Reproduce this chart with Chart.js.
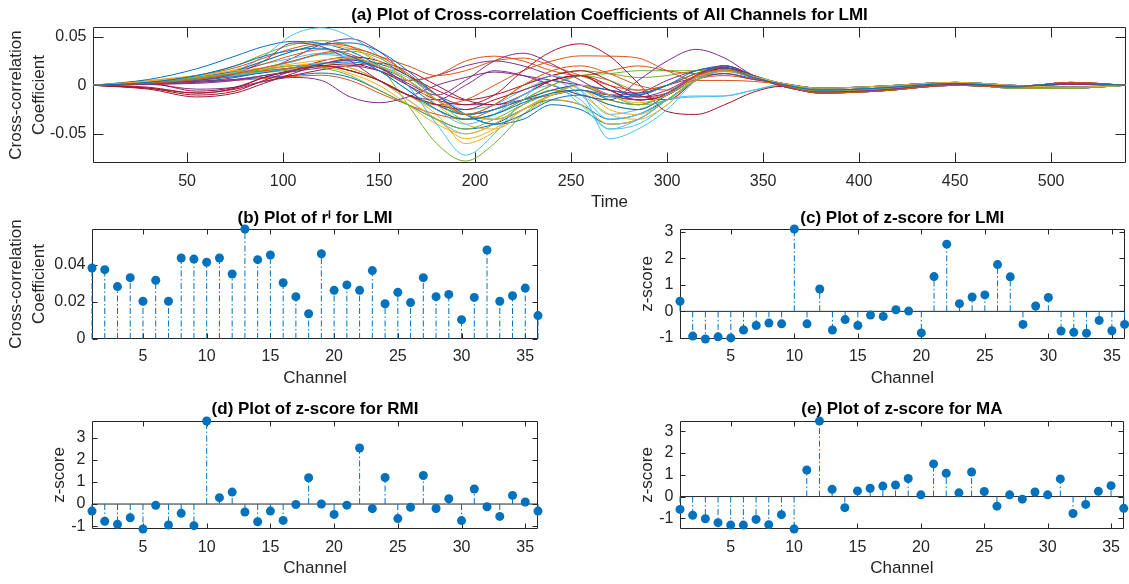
<!DOCTYPE html>
<html><head><meta charset="utf-8">
<script src="https://cdn.jsdelivr.net/npm/chart.js@4.4.1/dist/chart.umd.min.js"></script>
<style>
html,body{margin:0;padding:0;background:#fff;width:1129px;height:584px;overflow:hidden;position:relative;}
canvas{position:absolute;}
</style></head><body>
<canvas id="ca" width="1129" height="215" style="left:0px;top:0px"></canvas>
<canvas id="cb" width="560" height="190" style="left:0px;top:205px"></canvas>
<canvas id="cc" width="569" height="190" style="left:560px;top:205px"></canvas>
<canvas id="cd" width="560" height="189" style="left:0px;top:395px"></canvas>
<canvas id="ce" width="569" height="189" style="left:560px;top:395px"></canvas>
<script>
// ---------- data ----------
const timeKnots = [1,30,55,75,90,105,120,135,150,165,180,195,210,225,240,255,270,285,300,315,330,345,360,380,410,450,480,510,539];
const cc01 = [0,.003,.010,.020,.030,.036,.0382,.030,.015,-.005,-.025,-.035,-.030,-.018,-.008,-.005,-.012,-.010,.000,.015,.018,.008,.001,-.005,-.003,.002,-.001,.002,0];
const cc02 = [0,.002,.006,.012,.018,.025,.033,.0373,.030,.012,-.010,-.030,-.020,.000,.015,.020,.012,.000,-.005,.010,.016,.008,.000,-.008,-.006,.000,-.002,.003,0];
const cc03 = [0,.004,.010,.015,.018,.022,.026,.0282,.020,.005,-.015,-.030,-.035,-.025,-.010,.000,-.010,-.018,-.010,.008,.016,.009,.002,-.003,-.001,.003,.000,-.002,0];
const cc04 = [0,.001,.002,.005,.010,.015,.022,.026,.018,.002,-.010,.005,.025,.033,.022,.005,-.010,-.015,-.010,.010,.020,.010,-.001,-.007,-.005,.001,-.001,.001,0];
const cc05 = [0,.003,.008,.012,.016,.0203,.018,.010,-.005,-.020,-.035,-.045,-.035,-.020,-.008,.000,-.010,-.020,-.015,.005,.016,.010,.001,-.006,-.004,.002,-.003,-.003,0];
const cc06 = [0,.003,.008,.013,.018,.024,.0316,.028,.015,-.005,-.025,-.040,-.030,-.010,.000,-.020,-.045,-.035,-.015,.005,.015,.008,.001,-.005,-.003,.002,-.001,.002,0];
const cc07 = [0,-.004,-.012,-.008,.002,.012,.0203,.015,.005,-.010,-.020,-.025,-.015,-.005,.005,.010,-.005,-.015,-.010,.008,.018,.010,.000,-.008,-.006,.000,-.002,.003,0];
const cc08 = [0,.003,.008,.015,.025,.035,.042,.0436,.035,.015,-.010,-.030,-.040,-.030,-.015,-.010,-.020,-.025,-.010,.010,.020,.010,.002,-.003,-.001,.003,.000,-.002,0];
const cc09 = [0,.004,.010,.018,.028,.038,.043,.040,.030,.020,.010,.015,.025,.028,.020,.010,.000,-.005,.000,.012,.018,.009,-.001,-.007,-.005,.001,-.001,.001,0];
const cc10 = [0,.004,.009,.016,.025,.035,.0413,.038,.025,.005,-.020,-.040,-.045,-.030,-.015,-.020,-.040,-.035,-.015,.005,.015,.008,.001,-.006,-.004,.002,-.003,-.003,0];
const cc11 = [0,.002,.005,.012,.025,.0436,.040,.025,.005,-.010,-.015,.000,.015,.010,.000,-.010,-.015,.005,.025,.037,.028,.010,.001,-.005,-.003,.002,-.001,.002,0];
const cc12 = [0,.003,.007,.012,.018,.025,.032,.035,.028,.010,-.015,-.035,-.030,-.015,.000,.010,.005,-.005,.000,.012,.020,.010,.000,-.008,-.006,.000,-.002,.003,0];
const cc13 = [0,.003,.008,.015,.030,.052,.0592,.050,.030,.000,-.040,-.072,-.050,-.015,.010,-.005,-.055,-.045,-.025,.005,.020,.010,.002,-.003,-.001,.003,.000,-.002,0];
const cc14 = [0,.002,-.006,-.002,.008,.015,.020,.022,.015,.000,-.015,-.020,-.010,.015,.035,.0427,.030,.002,-.027,-.030,-.020,-.007,-.001,-.007,-.005,.001,-.001,.001,0];
const cc15 = [0,.006,.017,.030,.040,.0452,.043,.035,.020,.000,-.020,-.030,-.025,-.015,-.005,.000,-.005,-.010,.000,.012,.018,.008,.001,-.006,-.004,.002,-.003,-.003,0];
const cc16 = [0,.003,.007,.012,.015,.018,.020,.015,.005,-.010,-.020,-.015,.000,.015,.025,.0303,.030,.028,.015,.005,.005,.004,.001,-.005,-.003,.002,-.001,.002,0];
const cc17 = [0,.004,.009,.013,.016,.020,.0228,.018,.005,-.015,-.035,-.055,-.045,-.025,-.010,-.005,-.020,-.025,-.010,.008,.016,.009,.000,-.008,-.006,.000,-.002,.003,0];
const cc18 = [0,.001,-.004,-.002,.004,.008,.005,-.012,-.018,-.012,.000,.008,.0136,.010,.005,.000,-.005,-.008,.000,.008,.012,.006,.002,-.003,-.001,.003,.000,-.002,0];
const cc19 = [0,.004,.010,.020,.032,.042,.0459,.040,.020,-.020,-.060,-.078,-.060,-.030,-.010,.000,-.015,-.020,-.010,.005,.015,.008,-.001,-.007,-.005,.001,-.001,.001,0];
const cc20 = [0,.003,.006,.010,.014,.018,.022,.0262,.020,.008,-.010,-.025,-.020,-.005,.005,-.010,-.035,-.030,-.015,-.011,-.011,-.005,.001,-.006,-.004,.002,-.003,-.003,0];
const cc21 = [0,-.003,-.010,-.006,.005,.015,.025,.0291,.025,.010,-.005,-.015,-.010,.000,.010,.015,.005,-.010,-.015,.005,.018,.010,.001,-.005,-.003,.002,-.001,.002,0];
const cc22 = [0,.002,.005,.009,.013,.018,.022,.0262,.022,.010,-.010,-.030,-.040,-.035,-.020,-.025,-.040,-.035,-.015,.005,.015,.008,.000,-.008,-.006,.000,-.002,.003,0];
const cc23 = [0,.003,.008,.014,.022,.031,.0368,.032,.018,.005,.010,.025,.030,.025,.015,.010,.015,.020,.015,.012,.015,.008,.002,-.003,-.001,.003,.000,-.002,0];
const cc24 = [0,.004,.008,.012,.015,.017,.019,.012,.000,-.020,-.040,-.050,-.040,-.020,-.005,-.010,-.030,-.035,-.020,.005,.014,.008,-.001,-.007,-.005,.001,-.001,.001,0];
const cc25 = [0,.001,.003,.006,.010,.014,.018,.020,.015,.005,.010,.020,.0251,.020,.010,.000,-.010,-.012,-.005,.010,.018,.009,.001,-.006,-.004,.002,-.003,-.003,0];
const cc26 = [0,.003,.007,.011,.014,.017,.0196,.015,.005,-.010,-.025,-.035,-.030,-.015,.000,.010,.012,.015,.015,.015,.016,.008,.001,-.005,-.003,.002,-.001,.002,0];
const cc27 = [0,.004,.009,.015,.022,.028,.033,.030,.020,.005,-.015,-.030,-.025,-.010,.005,-.005,-.030,-.025,-.015,-.012,-.011,-.005,.000,-.008,-.006,.000,-.002,.003,0];
const cc28 = [0,-.002,-.008,-.004,.004,.010,.016,.020,.0228,.015,.000,-.015,-.020,-.010,.005,.010,-.005,-.015,-.010,.008,.018,.009,.002,-.003,-.001,.003,.000,-.002,0];
const cc29 = [0,.003,.006,.010,.014,.018,.022,.024,.018,.005,-.015,-.030,-.035,-.025,-.010,-.005,-.015,-.020,-.008,.010,.020,.010,-.001,-.007,-.005,.001,-.001,.001,0];
const cc30 = [0,.001,.003,.005,.007,.009,.0104,.005,-.008,-.020,-.030,-.035,-.025,-.015,-.005,.000,-.010,-.015,-.008,.006,.010,.006,.001,-.006,-.004,.002,-.003,-.003,0];
const cc31 = [0,.005,.010,.014,.017,.020,.0224,.018,.005,-.010,-.030,-.060,-.048,-.025,-.010,-.005,-.025,-.030,-.015,.005,.015,.008,.001,-.005,-.003,.002,-.001,.002,0];
const cc32 = [0,.002,.004,.008,.015,.028,.042,.0479,.035,.010,-.010,-.020,-.020,-.015,-.010,-.005,-.010,-.008,.005,.015,.020,.010,.000,-.008,-.006,.000,-.002,.003,0];
const cc33 = [0,.003,.006,.010,.013,.016,.0203,.015,.005,-.010,-.020,-.030,-.020,.000,.010,.015,.012,.008,.010,.015,.017,.008,.002,-.003,-.001,.003,.000,-.002,0];
const cc34 = [0,.003,.006,.010,.014,.018,.0233,.018,.005,-.015,-.035,-.050,-.040,-.020,-.005,-.015,-.045,-.040,-.020,.005,.015,.008,-.001,-.007,-.005,.001,-.001,.001,0];
const cc35 = [0,-.003,-.008,-.003,.008,.016,.022,.0274,.020,.005,-.015,-.030,-.025,-.010,.005,.010,.000,-.012,-.008,.008,.018,.009,.001,-.006,-.004,.002,-.003,-.003,0];
const cc36 = [0,.002,.004,.006,.008,.010,.0126,.008,-.005,-.020,-.035,-.045,-.040,-.025,-.015,-.020,-.035,-.030,-.015,.005,.012,.007,.001,-.005,-.003,.002,-.001,.002,0];

const channels = [1,2,3,4,5,6,7,8,9,10,11,12,13,14,15,16,17,18,19,20,21,22,23,24,25,26,27,28,29,30,31,32,33,34,35,36];
const rLMI = [.0382,.0373,.0282,.0330,.0203,.0316,.0203,.0436,.0430,.0413,.0436,.0350,.0592,.0427,.0452,.0303,.0228,.0136,.0459,.0262,.0291,.0262,.0368,.0190,.0251,.0196,.0330,.0228,.0240,.0104,.0224,.0479,.0203,.0233,.0274,.0126];
const zLMI = [0.38,-0.93,-1.04,-0.96,-1.0,-0.70,-0.53,-0.44,-0.47,3.1,-0.47,0.84,-0.70,-0.31,-0.53,-0.14,-0.19,0.06,0.01,-0.81,1.31,2.53,0.29,0.54,0.62,1.76,1.30,-0.49,0.20,0.52,-0.74,-0.79,-0.82,-0.34,-0.73,-0.49];
const zRMI = [-0.32,-0.78,-0.92,-0.62,-1.13,-0.06,-0.95,-0.42,-0.98,3.76,0.29,0.54,-0.36,-0.80,-0.32,-0.74,-0.02,1.19,0.0,-0.47,-0.05,2.54,-0.21,1.20,-0.66,-0.15,1.29,-0.20,0.24,-0.75,0.68,-0.12,-0.56,0.39,0.09,-0.32];
const zMA = [-0.59,-0.86,-1.02,-1.20,-1.31,-1.31,-1.05,-1.29,-0.83,-1.49,1.22,3.47,0.33,-0.51,0.26,0.38,0.48,0.53,0.83,0.08,1.50,1.07,0.17,1.13,0.23,-0.44,0.08,-0.12,0.21,0.08,0.81,-0.78,-0.36,0.24,0.50,-0.54];

const timeTicks = [50,100,150,200,250,300,350,400,450,500];
const ccTicks = [-0.05,0,0.05];
const channelTicks = [5,10,15,20,25,30,35];
const rTicks = [0,0.02,0.04];
const zTicks = [-1,0,1,2,3];

// ---------- styling ----------
const FONT = "'Liberation Sans', Arial, Helvetica, sans-serif";
const AX = '#262626';
const BLUE = '#0072BD';
const lineColors = ['#0072BD','#D95319','#EDB120','#7E2F8E','#77AC30','#4DBEEE','#A2142F'];

const boxTicks = {
  id: 'boxTicks',
  beforeDatasetsDraw(chart, args, o) {
    const {ctx, chartArea: a} = chart;
    const xs = chart.scales.x, ys = chart.scales.y;
    const L = o.len || 5;
    const l = Math.round(a.left) + 0.5, r = Math.round(a.right) - 0.5;
    const t = Math.round(a.top) + 0.5, b = Math.round(a.bottom) - 0.5;
    ctx.save();
    ctx.strokeStyle = AX; ctx.lineWidth = 1;
    ctx.beginPath();
    ctx.rect(l, t, r - l, b - t);
    xs.ticks.forEach(tk => { const p = Math.round(xs.getPixelForValue(tk.value)) + 0.5;
      ctx.moveTo(p, b); ctx.lineTo(p, b - L); ctx.moveTo(p, t); ctx.lineTo(p, t + L); });
    ys.ticks.forEach(tk => { const p = Math.round(ys.getPixelForValue(tk.value)) + 0.5;
      ctx.moveTo(l, p); ctx.lineTo(l + L, p); ctx.moveTo(r, p); ctx.lineTo(r - L, p); });
    ctx.stroke();
    ctx.restore();
  }
};

function xAxis(min, max, ticks, title, height, tickPad, titlePadBottom) {
  return {
    type: 'linear', position: 'bottom', min, max,
    grid: {display: false, drawTicks: false, tickLength: 0},
    border: {display: false},
    afterBuildTicks: s => { s.ticks = ticks.map(v => ({value: v})); },
    afterFit: s => { s.height = height; },
    ticks: {color: AX, font: {family: FONT, size: 16}, padding: tickPad, maxRotation: 0, autoSkip: false, callback: v => String(v)},
    title: {display: true, text: title, color: AX, font: {family: FONT, size: 17}, padding: {top: 0, bottom: titlePadBottom}}
  };
}
function yAxis(min, max, ticks, title, width, titlePadTop) {
  return {
    type: 'linear', position: 'left', min, max,
    grid: {display: false, drawTicks: false, tickLength: 0},
    border: {display: false},
    afterBuildTicks: s => { s.ticks = ticks.map(v => ({value: v})); },
    afterFit: s => { s.width = width; },
    ticks: {color: AX, font: {family: FONT, size: 16}, padding: 6.5, autoSkip: false, callback: v => String(v)},
    title: {display: true, text: title, color: AX, font: {family: FONT, size: 17, lineHeight: 1.33}, padding: {top: titlePadTop, bottom: 0}}
  };
}
function baseOptions(titleText, tPadTop, tPadBottom, padRight, tickLen) {
  return {
    responsive: false, animation: false, devicePixelRatio: 1, events: [],
    layout: {autoPadding: false, padding: {left: 0, right: padRight, top: 0, bottom: 0}},
    plugins: {
      legend: {display: false}, tooltip: {enabled: false},
      title: {display: true, text: titleText, fullSize: false, color: '#000',
        font: {family: FONT, size: 17, weight: 'bold', lineHeight: 1.2},
        padding: {top: tPadTop, bottom: tPadBottom}},
      boxTicks: {len: tickLen}
    }
  };
}

// ---------- (a) ----------
const curves = [cc01,cc02,cc03,cc04,cc05,cc06,cc07,cc08,cc09,cc10,cc11,cc12,cc13,cc14,cc15,cc16,cc17,cc18,
                cc19,cc20,cc21,cc22,cc23,cc24,cc25,cc26,cc27,cc28,cc29,cc30,cc31,cc32,cc33,cc34,cc35,cc36];
const optA = baseOptions('(a) Plot of Cross-correlation Coefficients of All Channels for LMI', 4.8, 1.8, 3, 10);
optA.scales = {
  x: xAxis(1, 539, timeTicks, 'Time', 52, 9, 2.8),
  y: yAxis(-0.08, 0.06, ccTicks, ['Cross-correlation', 'Coefficient'], 93, 5.4)
};
new Chart(document.getElementById('ca'), {
  type: 'scatter',
  data: {datasets: curves.map((arr, i) => ({
    label: 'Channel ' + (i + 1),
    data: arr.map((v, k) => ({x: timeKnots[k], y: v})),
    showLine: true, borderColor: lineColors[i % 7], borderWidth: 1,
    pointRadius: 0, cubicInterpolationMode: 'monotone', fill: false
  }))},
  options: optA,
  plugins: [boxTicks]
});

// ---------- stem panels ----------
function stemData(vals) {
  const stems = [];
  channels.forEach((c, i) => { stems.push({x: c, y: 0}, {x: c, y: vals[i]}, {x: c, y: null}); });
  return {datasets: [
    {label: 'markers', data: channels.map((c, i) => ({x: c, y: vals[i]})), showLine: false,
     pointRadius: 4.5, pointHoverRadius: 4.5, pointBackgroundColor: BLUE, pointBorderWidth: 0, clip: false},
    {label: 'stems', data: stems, showLine: true, borderColor: BLUE, borderWidth: 1,
     borderDash: [6, 2.5, 1.5, 2.5], pointRadius: 0, spanGaps: false, clip: false},
    {label: 'baseline', data: [{x: channels[0], y: 0}, {x: channels[channels.length - 1], y: 0}],
     showLine: true, borderColor: AX, borderWidth: 1, pointRadius: 0}
  ]};
}
function stemChart(id, vals, title, yMin, yMax, yTicks, yTitle, cfg) {
  const o = baseOptions(title, cfg.tpt, cfg.tpb, cfg.padRight, 5);
  o.scales = {
    x: xAxis(1, 36, channelTicks, 'Channel', cfg.xh, cfg.xpad, cfg.xtpb),
    y: yAxis(yMin, yMax, yTicks, yTitle, cfg.yw, cfg.ytp)
  };
  new Chart(document.getElementById(id), {type: 'scatter', data: stemData(vals), options: o, plugins: [boxTicks]});
}

stemChart('cb', rLMI, '(b) Plot of r\u2071 for LMI', 0, 0.0592, rTicks, ['Cross-correlation', 'Coefficient'],
  {tpt: 3.6, tpb: 0, padRight: 22, xh: 56, xpad: 8.1, xtpb: 6.8, yw: 92, ytp: 5.4});
stemChart('cc', zLMI, '(c) Plot of z-score for LMI', -1.04, 3.1, zTicks, 'z-score',
  {tpt: 3.6, tpb: 0, padRight: 3, xh: 56, xpad: 8.1, xtpb: 6.8, yw: 120, ytp: 75.7});
stemChart('cd', zRMI, '(d) Plot of z-score for RMI', -1.13, 3.76, zTicks, 'z-score',
  {tpt: 3.8, tpb: 1.8, padRight: 22, xh: 55, xpad: 8.9, xtpb: 5.8, yw: 92, ytp: 47.7});
stemChart('ce', zMA, '(e) Plot of z-score for MA', -1.49, 3.47, zTicks, 'z-score',
  {tpt: 3.8, tpb: 1.8, padRight: 3, xh: 55, xpad: 8.9, xtpb: 5.8, yw: 120, ytp: 75.7});
</script>
</body></html>
